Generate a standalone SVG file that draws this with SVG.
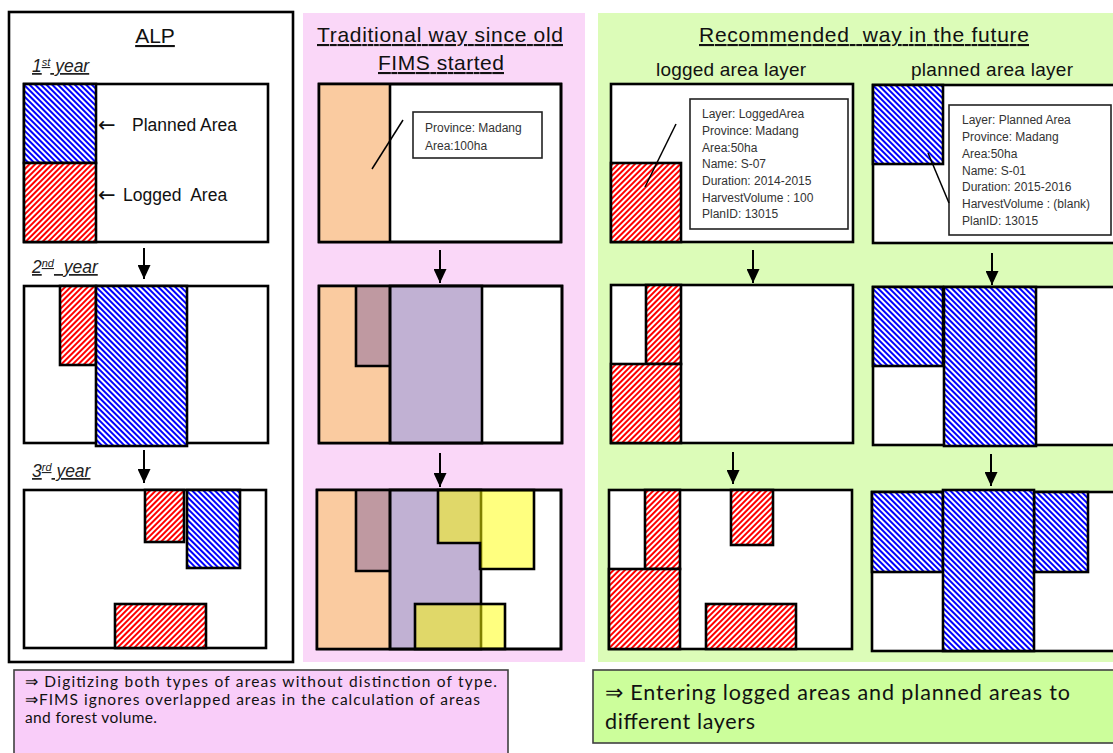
<svg xmlns="http://www.w3.org/2000/svg" width="1113" height="753" viewBox="0 0 1113 753">
  <style>
    .frame { fill: #ffffff; stroke: #000000; stroke-width: 2.6; }
    .edge { fill: none; stroke: #000000; stroke-width: 2.6; }
    .logged { fill: url(#hatchRed); stroke: #000000; stroke-width: 2.6; }
    .planned { fill: url(#hatchBlue); stroke: #000000; stroke-width: 2.6; }
    .info { fill: #ffffff; stroke: #222222; stroke-width: 1.6; }
    .t { font-family: "Liberation Sans", Arial, sans-serif; fill: #111111; }
    .title { font-size: 21px; text-decoration: underline; }
    .year { font-size: 17.5px; font-style: italic; text-decoration: underline; fill: #222222; }
    .sub { font-size: 17.5px; }
    .layer { font-size: 19px; }
    .larrow { font-family: "DejaVu Sans", sans-serif; font-size: 21px; }
    .small { font-size: 12px; fill: #333333; }
    .note { font-family: Lato, "Liberation Sans", sans-serif; font-size: 15.5px; }
    .noteBig { font-family: Lato, "Liberation Sans", sans-serif; font-size: 21.5px; }
    .arrow { stroke: #000000; stroke-width: 2; fill: none; marker-end: url(#head); }
    .leader { stroke: #000000; stroke-width: 1.5; fill: none; }
  </style>
  <defs>
    <pattern id="hatchRed" patternUnits="userSpaceOnUse" width="4" height="4" patternTransform="rotate(45)">
      <rect width="4" height="4" fill="#ffffff"/>
      <rect width="2" height="4" fill="#ff0000"/>
    </pattern>
    <pattern id="hatchBlue" patternUnits="userSpaceOnUse" width="4" height="4" patternTransform="rotate(-45)">
      <rect width="4" height="4" fill="#ffffff"/>
      <rect width="2" height="4" fill="#0000ff"/>
    </pattern>
    <marker id="head" markerUnits="userSpaceOnUse" viewBox="0 0 14 13" refX="14" refY="6.5" markerWidth="14" markerHeight="13" orient="auto">
      <path d="M0,0 L14,6.5 L0,13 z" fill="#000000"/>
    </marker>
  </defs>

  <rect width="1113" height="753" fill="#ffffff"/>

  <!-- ALP column -->
  <g id="alp">
    <rect x="9" y="12" width="284" height="650" fill="#ffffff" stroke="#000000" stroke-width="2.6"/>
    <text class="t title" x="155" y="43" text-anchor="middle">ALP</text>

    <text class="t year" x="32" y="72">1<tspan font-size="11" dy="-6">st</tspan><tspan dy="6"> year</tspan></text>
    <rect class="frame" x="24" y="84" width="244" height="158"/>
    <rect class="planned" x="24" y="84" width="72" height="79"/>
    <rect class="logged" x="24" y="163" width="72" height="79"/>
    <text class="t larrow" x="98" y="132">←</text>
    <text class="t sub" x="132" y="131">Planned Area</text>
    <text class="t larrow" x="98" y="202">←</text>
    <text class="t sub" x="123" y="201" xml:space="preserve">Logged  Area</text>

    <text class="t year" x="32" y="273" xml:space="preserve">2<tspan font-size="11" dy="-6">nd</tspan><tspan dy="6">  year</tspan></text>
    <rect class="frame" x="24" y="286" width="244" height="157"/>
    <rect class="logged" x="60" y="286" width="36" height="79"/>
    <rect class="planned" x="96" y="286" width="91" height="160"/>

    <text class="t year" x="32" y="477">3<tspan font-size="11" dy="-6">rd</tspan><tspan dy="6"> year</tspan></text>
    <rect class="frame" x="24" y="490" width="242" height="158"/>
    <rect class="logged" x="145" y="490" width="39" height="52"/>
    <rect class="planned" x="187" y="490" width="53" height="78"/>
    <rect class="logged" x="115" y="604" width="91" height="44"/>
  </g>

  <!-- Traditional column -->
  <g id="traditional">
    <rect x="303" y="13" width="282" height="649" fill="#fad7f8"/>
    <text class="t title" x="440" y="42" text-anchor="middle" textLength="246">Traditional way since old</text>
    <text class="t title" x="441" y="70" text-anchor="middle" textLength="126">FIMS started</text>

    <!-- year 1 -->
    <rect class="frame" x="319" y="84" width="242" height="158"/>
    <rect x="319" y="84" width="71" height="158" fill="#facba0"/>
    <line class="edge" x1="390" y1="84" x2="390" y2="242"/>
    <rect class="edge" x="319" y="84" width="242" height="158"/>
    <rect class="info" x="413" y="112" width="129" height="46"/>
    <text class="t small" x="425" y="132">Province: Madang</text>
    <text class="t small" x="425" y="150">Area:100ha</text>

    <!-- year 2 -->
    <rect class="frame" x="319" y="286" width="243" height="157"/>
    <rect x="319" y="286" width="71" height="157" fill="#facba0"/>
    <rect x="356" y="286" width="34" height="80" fill="#bf99a1"/>
    <rect x="390" y="286" width="92" height="157" fill="#c1b1d3"/>
    <path class="edge" d="M356,286 V366 H390 M390,286 V443"/>
    <rect class="edge" x="390" y="286" width="92" height="157"/>
    <rect class="edge" x="319" y="286" width="243" height="157"/>

    <!-- year 3 -->
    <rect class="frame" x="317" y="490" width="244" height="159"/>
    <rect x="317" y="490" width="73" height="159" fill="#facba0"/>
    <rect x="356" y="490" width="34" height="81" fill="#bf99a1"/>
    <rect x="390" y="490" width="91" height="159" fill="#c1b1d3"/>
    <path class="edge" d="M356,490 V571 H390 M390,490 V649"/>
    <rect class="edge" x="390" y="490" width="91" height="159"/>
    <path d="M438,490 H534 V569 H480 V543 H438 Z" fill="#ffff00" fill-opacity="0.5" stroke="#000000" stroke-width="2.6"/>
    <rect x="415" y="604" width="90" height="45" fill="#ffff00" fill-opacity="0.5" stroke="#000000" stroke-width="2.6"/>
    <rect class="edge" x="317" y="490" width="244" height="159"/>
  </g>

  <!-- Recommended column -->
  <g id="recommended">
    <rect x="598" y="13" width="515" height="649" fill="#dcfcb8"/>
    <text class="t title" x="864" y="42" text-anchor="middle" textLength="330" xml:space="preserve">Recommended  way in the future</text>
    <text class="t layer" x="731" y="76" text-anchor="middle" textLength="150">logged area layer</text>
    <text class="t layer" x="992" y="76" text-anchor="middle" textLength="162">planned area layer</text>
  </g>

  <g id="logged-layer">
    <rect class="frame" x="611" y="84" width="242" height="158"/>
    <rect class="logged" x="611" y="163" width="70" height="79"/>
    <rect class="info" x="690" y="99" width="158" height="130"/>
    <g class="t small">
      <text x="702" y="118">Layer: LoggedArea</text>
      <text x="702" y="135">Province: Madang</text>
      <text x="702" y="151.5">Area:50ha</text>
      <text x="702" y="168">Name: S-07</text>
      <text x="702" y="185">Duration: 2014-2015</text>
      <text x="702" y="201.5">HarvestVolume : 100</text>
      <text x="702" y="218">PlanID: 13015</text>
    </g>

    <rect class="frame" x="611" y="285" width="242" height="158"/>
    <rect class="logged" x="646" y="285" width="35" height="79"/>
    <rect class="logged" x="611" y="364" width="70" height="79"/>

    <rect class="frame" x="609" y="490" width="243" height="159"/>
    <rect class="logged" x="645" y="490" width="35" height="79"/>
    <rect class="logged" x="609" y="569" width="71" height="80"/>
    <rect class="logged" x="731" y="490" width="42" height="55"/>
    <rect class="logged" x="706" y="604" width="90" height="45"/>
  </g>

  <g id="planned-layer">
    <rect class="frame" x="873" y="85" width="250" height="158"/>
    <rect class="planned" x="873" y="85" width="70" height="79"/>
    <rect class="info" x="949" y="105" width="162" height="130"/>
    <g class="t small">
      <text x="962" y="123.5">Layer: Planned Area</text>
      <text x="962" y="140.5">Province: Madang</text>
      <text x="962" y="158">Area:50ha</text>
      <text x="962" y="174.5">Name: S-01</text>
      <text x="962" y="191">Duration: 2015-2016</text>
      <text x="962" y="208">HarvestVolume : (blank)</text>
      <text x="962" y="224.5">PlanID: 13015</text>
    </g>

    <rect class="frame" x="873" y="287" width="250" height="158"/>
    <rect class="planned" x="873" y="287" width="70" height="79"/>
    <rect class="planned" x="944" y="287" width="92" height="159"/>

    <rect class="frame" x="872" y="492" width="251" height="159"/>
    <rect class="planned" x="872" y="492" width="71" height="80"/>
    <rect class="planned" x="1034" y="492" width="54" height="80"/>
    <rect class="planned" x="943" y="490" width="91" height="161"/>
  </g>

  <!-- Summary notes -->
  <g id="note-traditional">
    <rect x="14" y="670" width="494" height="95" fill="#f9cdf9" stroke="#404040" stroke-width="1.6"/>
    <text class="t note" x="25" y="687" textLength="472">⇒ Digitizing both types of areas without distinction of type.</text>
    <text class="t note" x="25" y="705" textLength="455">⇒FIMS ignores overlapped areas in the calculation of areas</text>
    <text class="t note" x="25" y="723" textLength="132">and forest volume.</text>
  </g>

  <g id="note-recommended">
    <rect x="593" y="670" width="530" height="73" fill="#ccfe9b" stroke="#404040" stroke-width="1.6"/>
    <text class="t noteBig" x="605" y="700" textLength="465">⇒ Entering logged areas and planned areas to</text>
    <text class="t noteBig" x="605" y="729" textLength="150">different layers</text>
  </g>

  <!-- Connectors: year-to-year arrows and attribute leaders -->
  <g id="connectors">
    <line class="arrow" x1="144" y1="248" x2="144" y2="279"/>
    <line class="arrow" x1="144" y1="450" x2="144" y2="483"/>
    <line class="arrow" x1="440" y1="250" x2="440" y2="283"/>
    <line class="arrow" x1="440" y1="453" x2="440" y2="487"/>
    <line class="arrow" x1="753" y1="250" x2="753" y2="283"/>
    <line class="arrow" x1="733" y1="452" x2="733" y2="484"/>
    <line class="arrow" x1="992" y1="253" x2="992" y2="285"/>
    <line class="arrow" x1="991" y1="454" x2="991" y2="486"/>
    <line class="leader" x1="403" y1="120" x2="372" y2="169"/>
    <line class="leader" x1="676" y1="124" x2="645" y2="187"/>
    <line class="leader" x1="928" y1="153" x2="949" y2="203"/>
  </g>
</svg>
